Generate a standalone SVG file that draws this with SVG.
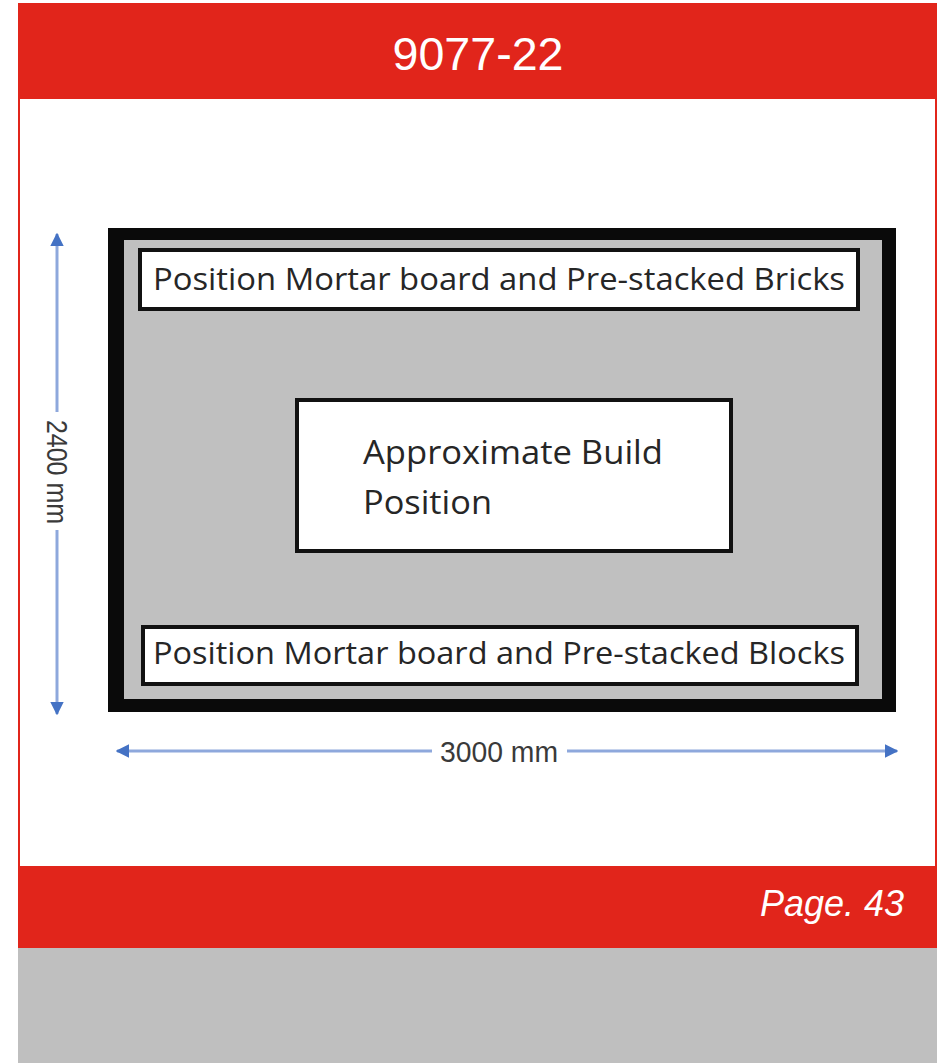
<svg xmlns="http://www.w3.org/2000/svg" width="939" height="1063" viewBox="0 0 939 1063">
  <style>
    .band { fill: #e1251b; }
    .label { font-family: "Open Sans", "Noto Sans", sans-serif; fill: #262626; }
    .dim { font-family: "Liberation Sans", "DejaVu Sans", sans-serif; fill: #3a3a3a; font-size: 29px; }
    .dimline { stroke: #8ea8dc; stroke-width: 3; fill: none; }
    .box { fill: #ffffff; stroke: #111111; stroke-width: 4; }
  </style>
  <defs>
    <marker id="tip" viewBox="0 0 10 10" refX="9" refY="5" markerWidth="4.5" markerHeight="4.5" orient="auto-start-reverse" markerUnits="strokeWidth">
      <path d="M0,0 L10,5 L0,10 Z" fill="#4472c4"/>
    </marker>
  </defs>

  <!-- page background -->
  <rect x="0" y="0" width="939" height="1063" fill="#ffffff"/>

  <!-- header -->
  <g id="header">
    <rect class="band" x="18" y="3" width="919" height="96"/>
    <text x="478" y="70" font-family="Liberation Sans, Arial, sans-serif" font-size="47" fill="#ffffff" text-anchor="middle" textLength="171" lengthAdjust="spacingAndGlyphs">9077-22</text>
  </g>

  <!-- content panel -->
  <rect x="19" y="98" width="917" height="769" fill="#ffffff" stroke="#e1251b" stroke-width="2"/>

  <!-- site plan -->
  <g id="site">
    <rect x="108" y="228" width="788" height="484" fill="#0a0a0a"/>
    <rect x="124" y="240" width="758" height="459" fill="#c0c0c0"/>
  </g>

  <g id="bricks-area">
    <rect class="box" x="140" y="250" width="718" height="59"/>
    <text class="label" x="153" y="290" font-size="31" textLength="692" lengthAdjust="spacingAndGlyphs">Position Mortar board and Pre-stacked Bricks</text>
  </g>

  <g id="build-position">
    <rect class="box" x="297" y="400" width="434" height="151"/>
    <text class="label" x="363" y="464" font-size="32" textLength="300" lengthAdjust="spacingAndGlyphs">Approximate Build</text>
    <text class="label" x="363" y="514" font-size="32" textLength="129" lengthAdjust="spacingAndGlyphs">Position</text>
  </g>

  <g id="blocks-area">
    <rect class="box" x="143" y="627" width="714" height="57"/>
    <text class="label" x="153" y="664" font-size="31" textLength="692" lengthAdjust="spacingAndGlyphs">Position Mortar board and Pre-stacked Blocks</text>
  </g>

  <!-- dimension lines -->
  <g id="dimensions">
    <line class="dimline" x1="57" y1="412" x2="57" y2="234" marker-end="url(#tip)"/>
    <line class="dimline" x1="57" y1="530" x2="57" y2="714" marker-end="url(#tip)"/>
    <text class="dim" transform="translate(47,472) rotate(90)" text-anchor="middle" textLength="104" lengthAdjust="spacingAndGlyphs">2400 mm</text>

    <line class="dimline" x1="432" y1="751" x2="117" y2="751" marker-end="url(#tip)"/>
    <line class="dimline" x1="567" y1="751" x2="897" y2="751" marker-end="url(#tip)"/>
    <text class="dim" x="499" y="762" text-anchor="middle" textLength="118" lengthAdjust="spacingAndGlyphs">3000 mm</text>
  </g>

  <!-- footer -->
  <g id="footer">
    <rect class="band" x="18" y="867" width="919" height="81"/>
    <text x="904" y="916" font-family="Liberation Sans, Arial, sans-serif" font-size="36" font-style="italic" fill="#ffffff" text-anchor="end">Page. 43</text>
  </g>

  <rect x="18" y="948" width="919" height="115" fill="#bfbfbf"/>
</svg>
